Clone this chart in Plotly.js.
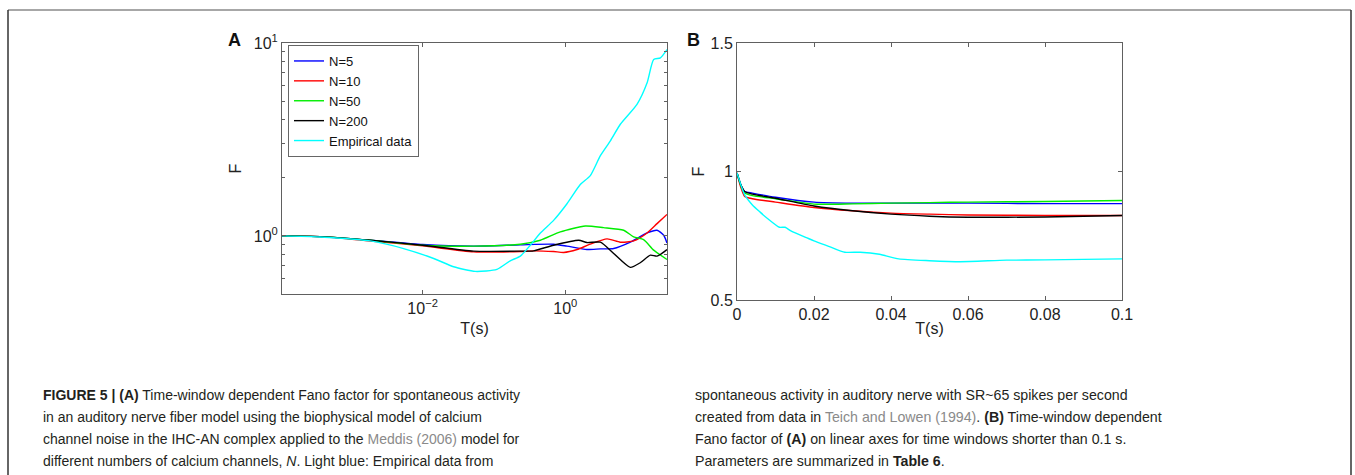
<!DOCTYPE html>
<html>
<head>
<meta charset="utf-8">
<script src="https://cdn.plot.ly/plotly-3.0.1.min.js"></script>
<style>
html,body{margin:0;padding:0;background:#fff;}
#chart{width:1355px;height:475px;}
</style>
</head>
<body>
<div id="chart"></div>
<script>
// ---------- Panel A (log-log) ----------
const seriesNames = ["N=5", "N=10", "N=50", "N=200", "Empirical data"];
const seriesColors = ["#0000ff", "#ff0000", "#00ee00", "#000000", "#00ffff"];

const aT_N5 = [1.07e-4, 3.67e-4, 1.85e-3, 0.01, 0.0519, 0.234, 0.685, 1.055, 2.01, 3.10, 4.76, 8.15, 14.0, 19.3, 23.9, 26.6];
const aF_N5 = [1, 0.992, 0.950, 0.902, 0.885, 0.899, 0.906, 0.885, 0.850, 0.857, 0.860, 0.928, 1.036, 1.070, 1.008, 0.920];

const aT_N10 = [1.07e-4, 3.67e-4, 1.85e-3, 0.01, 0.0519, 0.234, 0.360, 0.685, 0.948, 1.46, 2.24, 3.84, 5.90, 9.08, 14.0, 19.3, 26.6];
const aF_N10 = [1, 0.992, 0.942, 0.888, 0.827, 0.830, 0.837, 0.830, 0.821, 0.850, 0.906, 0.965, 0.928, 0.942, 1.036, 1.158, 1.293];

const aT_N50 = [1.07e-4, 3.67e-4, 1.85e-3, 0.01, 0.0519, 0.234, 0.447, 0.851, 1.91, 3.44, 6.58, 9.08, 12.5, 17.3, 26.6];
const aF_N50 = [1, 0.992, 0.950, 0.895, 0.885, 0.906, 0.950, 1.049, 1.126, 1.104, 1.070, 0.988, 0.957, 0.844, 0.755];

const aT_N200 = [1.07e-4, 3.67e-4, 1.85e-3, 0.01, 0.0519, 0.234, 0.360, 0.685, 1.54, 2.01, 3.10, 4.76, 8.15, 11.2, 15.6, 19.3, 26.6];
const aF_N200 = [1, 0.992, 0.950, 0.895, 0.834, 0.834, 0.837, 0.895, 0.950, 0.924, 0.928, 0.811, 0.687, 0.726, 0.795, 0.786, 0.850];

const aT_emp = [1.07e-4, 3.67e-4, 1.85e-3, 5.42e-3, 0.0143, 0.0272, 0.0547, 0.110, 0.169, 0.234, 0.323, 0.447, 0.685, 1.055, 1.62, 2.24, 3.10, 4.28, 5.90, 10.1, 14.0, 17.3, 21.5, 26.6];
const aF_emp = [1, 0.988, 0.942, 0.860, 0.764, 0.692, 0.655, 0.671, 0.743, 0.786, 0.895, 1.036, 1.204, 1.468, 1.846, 2.054, 2.605, 3.112, 3.793, 4.81, 6.22, 8.21, 8.37, 9.24];

const aXTickVals = [0.01, 1];
const aXTickText = ["10<sup>\u22122</sup>", "10<sup>0</sup>"];
const aYTickVals = [1, 10];
const aYTickText = ["10<sup>0</sup>", "10<sup>1</sup>"];
const aYMinorVals = [0.6, 0.7, 0.8, 0.9, 2, 3, 4, 5, 6, 7, 8, 9];

// ---------- Panel B (linear) ----------
const bT = [0, 0.001, 0.002, 0.004, 0.01, 0.02, 0.03, 0.04, 0.05, 0.06, 0.08, 0.1];
const bF_N5 = [0.994, 0.948, 0.922, 0.916, 0.900, 0.881, 0.877, 0.877, 0.877, 0.877, 0.875, 0.875];
const bF_N10 = [0.994, 0.938, 0.903, 0.894, 0.881, 0.860, 0.847, 0.838, 0.834, 0.831, 0.829, 0.829];
const bF_N50 = [0.994, 0.945, 0.916, 0.906, 0.894, 0.873, 0.874, 0.877, 0.879, 0.881, 0.883, 0.887];
const bF_N200 = [0.994, 0.948, 0.922, 0.912, 0.896, 0.866, 0.847, 0.834, 0.826, 0.822, 0.823, 0.829];

const bT_emp = [0, 0.001, 0.002, 0.004, 0.006, 0.008, 0.011, 0.0125, 0.014, 0.018, 0.02, 0.024, 0.028, 0.032, 0.037, 0.042, 0.05, 0.058, 0.07, 0.08, 0.1];
const bF_emp = [0.994, 0.948, 0.909, 0.870, 0.842, 0.816, 0.783, 0.783, 0.769, 0.743, 0.730, 0.708, 0.686, 0.686, 0.678, 0.660, 0.653, 0.649, 0.655, 0.656, 0.660];

const bXTickVals = [0, 0.02, 0.04, 0.06, 0.08, 0.1];
const bXTickText = ["0", "0.02", "0.04", "0.06", "0.08", "0.1"];
const bYTickVals = [0.5, 1, 1.5];
const bYTickText = ["0.5", "1", "1.5"];

const xTitle = "T(s)";
const yTitle = "F";

// ---------- Caption ----------
const captionLeft = [
  "<b>FIGURE 5 | (A)</b> Time-window dependent Fano factor for spontaneous activity",
  "in an auditory nerve fiber model using the biophysical model of calcium",
  "channel noise in the IHC-AN complex applied to the <span style='color:#8a8a8a'>Meddis (2006)</span> model for",
  "different numbers of calcium channels, <i>N</i>. Light blue: Empirical data from"
];
const captionRight = [
  "spontaneous activity in auditory nerve with SR~65 spikes per second",
  "created from data in <span style='color:#8a8a8a'>Teich and Lowen (1994)</span>. <b>(B)</b> Time-window dependent",
  "Fano factor of <b>(A)</b> on linear axes for time windows shorter than 0.1 s.",
  "Parameters are summarized in <b>Table 6</b>."
];

// ---------- Build ----------
const W = 1355, H = 475;
const px = v => v / W;
const py = v => 1 - v / H;

const aX = [aT_N5, aT_N10, aT_N50, aT_N200, aT_emp];
const aY = [aF_N5, aF_N10, aF_N50, aF_N200, aF_emp];
const bX = [bT, bT, bT, bT, bT_emp];
const bY = [bF_N5, bF_N10, bF_N50, bF_N200, bF_emp];

const traces = [];
for (let i = 0; i < seriesNames.length; i++) {
  traces.push({
    x: aX[i], y: aY[i], type: "scatter", mode: "lines", name: seriesNames[i],
    line: {color: seriesColors[i], width: 1.4, shape: "spline", smoothing: 0.6},
    xaxis: "x", yaxis: "y", showlegend: true
  });
}
for (let i = 0; i < seriesNames.length; i++) {
  traces.push({
    x: bX[i], y: bY[i], type: "scatter", mode: "lines", name: seriesNames[i],
    line: {color: seriesColors[i], width: 1.4, shape: "spline", smoothing: 0.6},
    xaxis: "x2", yaxis: "y2", showlegend: false
  });
}

const FONT = "'Liberation Sans', Arial, Helvetica, sans-serif";
const CAPFONT = "'Liberation Sans', Arial, sans-serif";
const axisCommon = {
  showline: true, linecolor: "#606060", linewidth: 1, mirror: "ticks",
  ticks: "inside", ticklen: 4, tickcolor: "#606060", showgrid: false, zeroline: false,
  tickfont: {family: FONT, size: 16, color: "#222"}, tickmode: "array", fixedrange: true
};
const titleFont = {family: FONT, size: 16, color: "#222"};

function ann(text, x, y, size) {
  return {
    text: text, x: px(x), y: py(y), xanchor: "center", yanchor: "middle",
    showarrow: false, xref: "paper", yref: "paper",
    font: {family: FONT, size: size, color: "#111"}
  };
}

const annotations = [
  ann("<b>A</b>", 234, 40, 18),
  ann("<b>B</b>", 694, 40, 18)
];
const lineY = [395, 417, 439, 461];
captionLeft.forEach((t, i) => annotations.push({
  text: t, x: px(41), y: py(lineY[i]), xanchor: "left", yanchor: "middle", showarrow: false,
  xref: "paper", yref: "paper", font: {family: CAPFONT, size: 14, color: "#231f20"}
}));
captionRight.forEach((t, i) => annotations.push({
  text: t, x: px(693), y: py(lineY[i]), xanchor: "left", yanchor: "middle", showarrow: false,
  xref: "paper", yref: "paper", font: {family: CAPFONT, size: 14.2, color: "#231f20"}
}));

const layout = {
  width: W, height: H,
  margin: {l: 0, r: 0, t: 0, b: 0},
  paper_bgcolor: "#fff", plot_bgcolor: "#fff",
  font: {family: FONT, color: "#222"},
  xaxis: Object.assign({}, axisCommon, {type: "log", domain: [px(282), px(667)], range: [Math.log10(1.07e-4), Math.log10(26.6)], tickvals: aXTickVals, ticktext: aXTickText, anchor: "y", title: {text: xTitle, font: titleFont, standoff: 6}}),
  yaxis: Object.assign({}, axisCommon, {
    type: "log", domain: [py(294), py(43)], range: [Math.log10(0.5), 1],
    tickvals: aYTickVals, ticktext: aYTickText, anchor: "x", title: {text: yTitle, font: titleFont, standoff: 8},
    minor: {tickmode: "array", tickvals: aYMinorVals, ticks: "inside", ticklen: 3, tickcolor: "#606060", showgrid: false}
  }),
  xaxis2: Object.assign({}, axisCommon, {domain: [px(737), px(1122)], range: [0, 0.1], tickvals: bXTickVals, ticktext: bXTickText, anchor: "y2", title: {text: xTitle, font: titleFont, standoff: 0}}),
  yaxis2: Object.assign({}, axisCommon, {domain: [py(300), py(43)], range: [0.5, 1.5], tickvals: bYTickVals, ticktext: bYTickText, anchor: "x2", title: {text: yTitle, font: titleFont, standoff: 1}}),
  legend: {
    x: px(288), y: py(45), xanchor: "left", yanchor: "top",
    bgcolor: "#fff", bordercolor: "#666", borderwidth: 1,
    font: {family: FONT, size: 13, color: "#111"}, itemwidth: 30, tracegroupgap: 0
  },
  annotations: annotations,
  shapes: [
    {type: "line", xref: "paper", yref: "paper", x0: px(8), x1: px(1351), y0: py(10), y1: py(10), line: {color: "#8a8a8a", width: 1.5}},
    {type: "line", xref: "paper", yref: "paper", x0: px(8), x1: px(8), y0: py(10), y1: 0, line: {color: "#333", width: 1.5}},
    {type: "line", xref: "paper", yref: "paper", x0: px(1351), x1: px(1351), y0: py(10), y1: 0, line: {color: "#333", width: 1.5}}
  ],
  showlegend: true
};

Plotly.newPlot("chart", traces, layout, {displayModeBar: false, staticPlot: true});
</script>
</body>
</html>
